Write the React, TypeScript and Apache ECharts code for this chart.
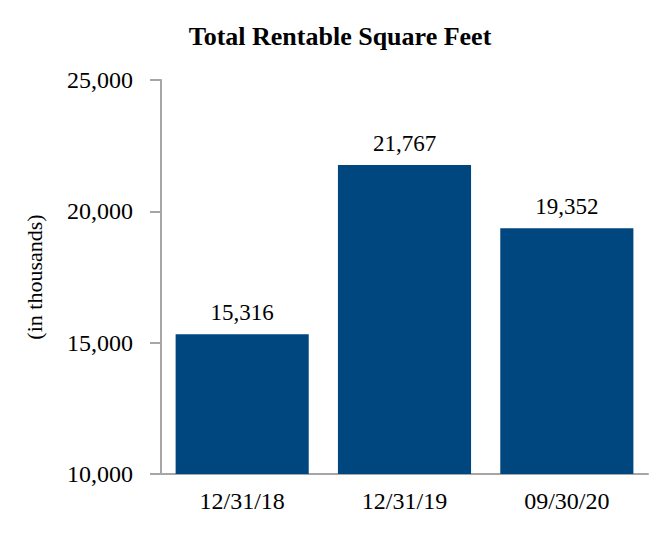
import { useEffect, useRef } from "react";
import * as echarts from "echarts";

const categories = ["12/31/18", "12/31/19", "09/30/20"];
const values = [15316, 21767, 19352];
const yTicks = { min: 10000, max: 25000, interval: 5000 };

const axisGray = "#a6a6a6";
const barBlue = "#00467f";
const serif = "Liberation Serif";

export default function App() {
  const nodeRef = useRef<HTMLDivElement | null>(null);

  useEffect(() => {
    document.body.style.margin = "0";
    if (!nodeRef.current) return;
    const chart = echarts.init(nodeRef.current, undefined, { renderer: "svg" });
    chart.setOption({
      animation: false,
      textStyle: { fontFamily: serif },
      title: {
        text: "Total Rentable Square Feet",
        left: 335,
        top: 18,
        textAlign: "center",
        textStyle: { fontFamily: serif, fontSize: 26, fontWeight: "bold", color: "#000" },
      },
      grid: { left: 161, right: 20, top: 80, bottom: 64 },
      xAxis: {
        type: "category",
        data: categories,
        axisLine: { lineStyle: { color: axisGray, width: 2 } },
        axisTick: { alignWithLabel: true, length: 11, lineStyle: { color: axisGray, width: 2 } },
        axisLabel: { color: "#000", fontFamily: serif, fontSize: 24, margin: 15 },
      },
      yAxis: {
        type: "value",
        min: yTicks.min,
        max: yTicks.max,
        interval: yTicks.interval,
        name: "(in thousands)",
        nameLocation: "middle",
        nameRotate: 90,
        nameGap: 116,
        nameTextStyle: { color: "#000", fontFamily: serif, fontSize: 22 },
        axisLine: { show: true, lineStyle: { color: axisGray, width: 2 } },
        axisTick: { show: true, length: 11, lineStyle: { color: axisGray, width: 2 } },
        axisLabel: {
          color: "#000",
          fontFamily: serif,
          fontSize: 24,
          margin: 28,
          formatter: (v: number) => v.toLocaleString("en-US"),
        },
        splitLine: { show: false },
      },
      series: [
        {
          type: "bar",
          data: values,
          barWidth: "82%",
          itemStyle: { color: barBlue },
          label: {
            show: true,
            position: "top",
            distance: 10,
            color: "#000",
            fontFamily: serif,
            fontSize: 23,
            formatter: (p: { value: number }) => p.value.toLocaleString("en-US"),
          },
        },
      ],
    });
    return () => chart.dispose();
  }, []);

  return <div ref={nodeRef} style={{ width: 668, height: 538 }} />;
}
